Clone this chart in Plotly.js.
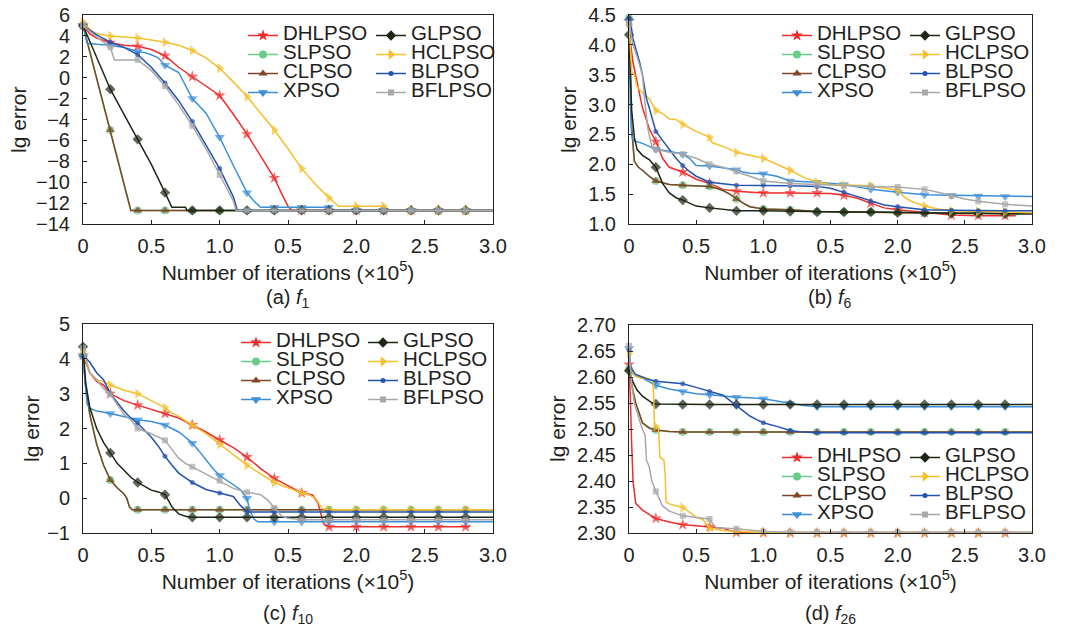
<!DOCTYPE html>
<html>
<head>
<meta charset="utf-8">
<script src="https://cdn.plot.ly/plotly-3.0.1.min.js"></script>
<style>
html, body { margin: 0; padding: 0; background: #ffffff; }
#chart { width: 1070px; height: 630px; }
</style>
</head>
<body>
<div id="chart"></div>
<script>
// ---------------- DATA ----------------
const seriesNames = ['DHLPSO', 'SLPSO', 'CLPSO', 'XPSO', 'GLPSO', 'HCLPSO', 'BLPSO', 'BFLPSO'];
const xTickVals = [0, 0.5, 1.0, 1.5, 2.0, 2.5, 3.0];
const xTickLabels = ['0', '0.5', '1.0', '0.5', '2.0', '2.5', '3.0'];
const panelCaptions = ['(a) <i>f</i><sub>1</sub>', '(b) <i>f</i><sub>6</sub>', '(c) <i>f</i><sub>10</sub>', '(d) <i>f</i><sub>26</sub>'];
const xTitle = 'Number of iterations (×10<sup>5</sup>)';
const yTitle = 'lg error';

// (a) f1
const f1_DHLPSO_x = [0, 0.05, 0.1, 0.2, 0.3, 0.4, 0.5, 0.6, 0.7, 0.8, 0.9, 1.0, 1.1, 1.2, 1.3, 1.4, 1.45, 1.5, 1.53, 1.6, 1.8, 2.0, 2.2, 2.4, 2.6, 2.8, 3.0];
const f1_DHLPSO_y = [5.0, 4.2, 3.8, 3.35, 3.1, 3.0, 2.7, 2.1, 1.0, 0.1, -0.8, -1.7, -3.5, -5.4, -7.5, -9.6, -11.0, -12.3, -12.7, -12.7, -12.7, -12.7, -12.7, -12.7, -12.7, -12.7, -12.7];
const f1_SLPSO_x = [0, 0.1, 0.2, 0.35, 0.4, 0.6, 0.8, 1.0, 1.2, 1.4, 1.6, 1.8, 2.0, 2.2, 2.4, 2.6, 2.8, 3.0];
const f1_SLPSO_y = [5.0, 0.0, -5.0, -12.7, -12.7, -12.7, -12.7, -12.7, -12.7, -12.7, -12.7, -12.7, -12.7, -12.7, -12.7, -12.7, -12.7, -12.7];
const f1_CLPSO_x = [0, 0.1, 0.2, 0.35, 0.4, 0.6, 0.8, 1.0, 1.2, 1.4, 1.6, 1.8, 2.0, 2.2, 2.4, 2.6, 2.8, 3.0];
const f1_CLPSO_y = [5.0, 0.0, -5.0, -12.7, -12.7, -12.7, -12.7, -12.7, -12.7, -12.7, -12.7, -12.7, -12.7, -12.7, -12.7, -12.7, -12.7, -12.7];
const f1_XPSO_x = [0, 0.03, 0.1, 0.2, 0.3, 0.4, 0.45, 0.5, 0.55, 0.6, 0.7, 0.8, 0.9, 1.0, 1.1, 1.2, 1.25, 1.3, 1.4, 1.6, 1.8, 1.81, 2.0, 2.2, 2.4, 2.6, 2.8, 3.0];
const f1_XPSO_y = [5.0, 3.3, 3.2, 3.1, 2.9, 2.5, 2.4, 2.2, 1.9, 1.2, 0.5, -2.0, -3.4, -5.7, -8.4, -11.0, -11.8, -12.4, -12.4, -12.4, -12.4, -12.7, -12.7, -12.7, -12.7, -12.7, -12.7, -12.7];
const f1_GLPSO_x = [0, 0.1, 0.2, 0.3, 0.4, 0.5, 0.6, 0.65, 0.75, 0.76, 0.8, 1.0, 1.2, 1.4, 1.6, 1.8, 2.0, 2.2, 2.4, 2.6, 2.8, 3.0];
const f1_GLPSO_y = [5.0, 2.0, -1.1, -3.5, -5.9, -8.3, -11.0, -12.4, -12.4, -12.7, -12.7, -12.7, -12.7, -12.7, -12.7, -12.7, -12.7, -12.7, -12.7, -12.7, -12.7, -12.7];
const f1_HCLPSO_x = [0, 0.05, 0.1, 0.2, 0.3, 0.4, 0.5, 0.6, 0.7, 0.8, 0.9, 1.0, 1.1, 1.2, 1.3, 1.4, 1.5, 1.6, 1.7, 1.8, 1.87, 2.0, 2.2, 2.21, 2.4, 2.6, 2.8, 3.0];
const f1_HCLPSO_y = [5.3, 4.6, 4.2, 4.0, 3.9, 3.8, 3.6, 3.4, 3.1, 2.6, 1.9, 0.9, -0.4, -1.8, -3.4, -5.0, -6.8, -8.7, -10.2, -11.5, -12.3, -12.3, -12.3, -12.7, -12.7, -12.7, -12.7, -12.7];
const f1_BLPSO_x = [0, 0.1, 0.2, 0.3, 0.4, 0.5, 0.6, 0.7, 0.8, 0.9, 1.0, 1.1, 1.13, 1.2, 1.4, 1.6, 1.8, 2.0, 2.2, 2.4, 2.6, 2.8, 3.0];
const f1_BLPSO_y = [5.0, 4.1, 3.4, 2.9, 2.2, 1.0, -0.5, -2.2, -4.2, -6.4, -8.7, -11.4, -12.7, -12.7, -12.7, -12.7, -12.7, -12.7, -12.7, -12.7, -12.7, -12.7, -12.7];
const f1_BFLPSO_x = [0, 0.1, 0.2, 0.23, 0.3, 0.4, 0.5, 0.6, 0.7, 0.8, 0.9, 1.0, 1.1, 1.12, 1.2, 1.4, 1.6, 1.8, 2.0, 2.2, 2.4, 2.6, 2.8, 3.0];
const f1_BFLPSO_y = [5.0, 3.9, 2.9, 1.7, 1.7, 1.7, 0.7, -0.8, -2.6, -4.6, -6.8, -9.3, -11.8, -12.7, -12.7, -12.7, -12.7, -12.7, -12.7, -12.7, -12.7, -12.7, -12.7, -12.7];

// (b) f6
const f6_DHLPSO_x = [0, 0.01, 0.03, 0.05, 0.08, 0.1, 0.15, 0.2, 0.25, 0.3, 0.4, 0.5, 0.6, 0.7, 0.8, 1.0, 1.2, 1.4, 1.5, 1.6, 1.7, 1.8, 1.9, 2.0, 2.2, 2.4, 2.6, 2.8, 2.88];
const f6_DHLPSO_y = [4.4, 4.05, 3.7, 3.5, 3.15, 2.95, 2.6, 2.38, 2.1, 1.95, 1.87, 1.75, 1.68, 1.58, 1.55, 1.52, 1.52, 1.52, 1.51, 1.48, 1.43, 1.35, 1.27, 1.24, 1.19, 1.15, 1.14, 1.14, 1.14];
const f6_SLPSO_x = [0, 0.01, 0.02, 0.04, 0.07, 0.1, 0.15, 0.2, 0.3, 0.4, 0.5, 0.6, 0.65, 0.7, 0.75, 0.8, 0.85, 0.9, 1.0, 1.2, 1.4, 1.6, 1.8, 2.0, 2.2, 2.4, 2.6, 2.8, 3.0];
const f6_SLPSO_y = [4.45, 3.3, 2.6, 2.05, 1.95, 1.9, 1.8, 1.72, 1.66, 1.65, 1.64, 1.63, 1.6, 1.56, 1.5, 1.42, 1.35, 1.29, 1.25, 1.24, 1.21, 1.2, 1.2, 1.19, 1.19, 1.18, 1.18, 1.17, 1.17];
const f6_CLPSO_x = [0, 0.01, 0.02, 0.04, 0.07, 0.1, 0.15, 0.2, 0.3, 0.4, 0.5, 0.6, 0.65, 0.7, 0.75, 0.8, 0.85, 0.9, 1.0, 1.2, 1.4, 1.6, 1.8, 2.0, 2.2, 2.4, 2.6, 2.8, 3.0];
const f6_CLPSO_y = [4.45, 3.3, 2.6, 2.05, 1.95, 1.9, 1.8, 1.72, 1.66, 1.65, 1.64, 1.63, 1.6, 1.56, 1.5, 1.42, 1.35, 1.29, 1.25, 1.24, 1.21, 1.2, 1.2, 1.19, 1.19, 1.18, 1.18, 1.17, 1.17];
const f6_XPSO_x = [0, 0.01, 0.02, 0.03, 0.1, 0.2, 0.3, 0.4, 0.45, 0.5, 0.6, 0.8, 0.85, 0.9, 1.0, 1.1, 1.2, 1.4, 1.6, 1.8, 2.0, 2.2, 2.4, 2.6, 2.8, 3.0];
const f6_XPSO_y = [4.4, 3.0, 2.5, 2.4, 2.35, 2.25, 2.22, 2.17, 2.1, 1.98, 1.97, 1.91, 1.87, 1.85, 1.84, 1.8, 1.72, 1.7, 1.66, 1.58, 1.53, 1.49, 1.48, 1.47, 1.46, 1.46];
const f6_GLPSO_x = [0, 0.01, 0.02, 0.04, 0.06, 0.1, 0.15, 0.2, 0.22, 0.25, 0.3, 0.35, 0.4, 0.5, 0.6, 0.7, 0.8, 1.0, 1.2, 1.4, 1.6, 1.8, 2.0, 2.2, 2.4, 2.6, 2.8, 3.0];
const f6_GLPSO_y = [4.17, 3.4, 2.9, 2.45, 2.25, 2.15, 2.08, 1.95, 1.85, 1.68, 1.52, 1.44, 1.4, 1.3, 1.27, 1.24, 1.22, 1.22, 1.21, 1.2, 1.2, 1.2, 1.19, 1.19, 1.18, 1.18, 1.17, 1.17];
const f6_HCLPSO_x = [0, 0.02, 0.04, 0.06, 0.1, 0.15, 0.2, 0.25, 0.3, 0.35, 0.4, 0.5, 0.6, 0.62, 0.7, 0.8, 0.9, 1.0, 1.1, 1.2, 1.3, 1.4, 1.5, 1.6, 1.8, 1.9, 2.0, 2.05, 2.1, 2.2, 2.3, 2.4, 2.6, 2.8, 3.0];
const f6_HCLPSO_y = [4.35, 3.55, 3.5, 3.3, 3.2, 3.1, 2.9, 2.85, 2.76, 2.75, 2.67, 2.55, 2.45, 2.36, 2.3, 2.2, 2.15, 2.1, 2.0, 1.9, 1.78, 1.7, 1.66, 1.65, 1.64, 1.6, 1.57, 1.45, 1.38, 1.3, 1.25, 1.22, 1.21, 1.2, 1.19];
const f6_BLPSO_x = [0, 0.01, 0.03, 0.05, 0.08, 0.1, 0.13, 0.15, 0.2, 0.25, 0.3, 0.35, 0.4, 0.45, 0.5, 0.6, 0.8, 1.0, 1.2, 1.4, 1.5, 1.6, 1.7, 1.8, 1.9, 2.0, 2.2, 2.4, 2.6, 2.8, 3.0];
const f6_BLPSO_y = [4.45, 4.4, 4.1, 3.95, 3.7, 3.5, 3.1, 2.95, 2.55, 2.4, 2.25, 2.1, 1.98, 1.88, 1.8, 1.7, 1.65, 1.65, 1.64, 1.63, 1.6, 1.53, 1.46, 1.38, 1.32, 1.29, 1.24, 1.23, 1.22, 1.22, 1.22];
const f6_BFLPSO_x = [0, 0.03, 0.06, 0.1, 0.12, 0.14, 0.17, 0.2, 0.3, 0.4, 0.5, 0.6, 0.7, 0.8, 0.9, 1.0, 1.2, 1.4, 1.6, 1.8, 2.0, 2.2, 2.3, 2.4, 2.5, 2.6, 2.7, 2.8, 3.0];
const f6_BFLPSO_y = [4.35, 4.0, 3.8, 3.5, 3.0, 2.6, 2.3, 2.25, 2.2, 2.17, 2.1, 2.0, 1.95, 1.88, 1.8, 1.72, 1.68, 1.66, 1.64, 1.63, 1.62, 1.58, 1.53, 1.47, 1.42, 1.38, 1.35, 1.33, 1.3];

// (c) f10
const f10_DHLPSO_x = [0, 0.05, 0.1, 0.15, 0.2, 0.3, 0.4, 0.5, 0.6, 0.7, 0.8, 0.9, 1.0, 1.1, 1.2, 1.3, 1.4, 1.5, 1.6, 1.68, 1.72, 1.76, 1.8, 2.0, 2.2, 2.4, 2.6, 2.8, 2.83];
const f10_DHLPSO_y = [4.1, 3.6, 3.35, 3.25, 3.0, 2.8, 2.67, 2.55, 2.43, 2.3, 2.1, 1.9, 1.67, 1.45, 1.18, 0.85, 0.57, 0.35, 0.15, 0.09, -0.15, -0.73, -0.82, -0.82, -0.82, -0.82, -0.82, -0.82, -0.82];
const f10_SLPSO_x = [0, 0.02, 0.05, 0.1, 0.15, 0.2, 0.25, 0.3, 0.32, 0.34, 0.36, 0.4, 0.6, 0.8, 1.0, 1.2, 1.4, 1.6, 1.8, 2.0, 2.2, 2.4, 2.6, 2.8, 3.0];
const f10_SLPSO_y = [4.1, 3.2, 2.4, 1.55, 0.95, 0.52, 0.3, 0.12, 0.0, -0.25, -0.33, -0.33, -0.33, -0.33, -0.33, -0.33, -0.33, -0.33, -0.33, -0.33, -0.33, -0.33, -0.33, -0.33, -0.33];
const f10_CLPSO_x = [0, 0.02, 0.05, 0.1, 0.15, 0.2, 0.25, 0.3, 0.32, 0.34, 0.36, 0.4, 0.6, 0.8, 1.0, 1.2, 1.4, 1.6, 1.8, 2.0, 2.2, 2.4, 2.6, 2.8, 3.0];
const f10_CLPSO_y = [4.1, 3.2, 2.4, 1.55, 0.95, 0.52, 0.3, 0.12, 0.0, -0.25, -0.33, -0.33, -0.33, -0.33, -0.33, -0.33, -0.33, -0.33, -0.33, -0.33, -0.33, -0.33, -0.33, -0.33, -0.33];
const f10_XPSO_x = [0, 0.02, 0.03, 0.05, 0.1, 0.2, 0.3, 0.4, 0.5, 0.6, 0.65, 0.7, 0.75, 0.8, 0.85, 0.9, 0.95, 1.0, 1.1, 1.15, 1.2, 1.22, 1.25, 1.28, 1.4, 1.6, 1.8, 2.0, 2.2, 2.4, 2.6, 2.8, 3.0];
const f10_XPSO_y = [4.05, 3.2, 2.7, 2.58, 2.5, 2.43, 2.35, 2.25, 2.2, 2.1, 2.0, 1.9, 1.75, 1.58, 1.35, 1.1, 0.85, 0.65, 0.4, 0.25, 0.0, -0.35, -0.6, -0.68, -0.68, -0.68, -0.68, -0.68, -0.68, -0.68, -0.68, -0.68, -0.68];
const f10_GLPSO_x = [0, 0.02, 0.05, 0.1, 0.15, 0.2, 0.25, 0.3, 0.35, 0.4, 0.45, 0.5, 0.55, 0.6, 0.63, 0.65, 0.7, 0.75, 0.8, 1.0, 1.2, 1.4, 1.6, 1.8, 2.0, 2.2, 2.4, 2.6, 2.8, 3.0];
const f10_GLPSO_y = [4.35, 3.3, 2.6, 2.0, 1.6, 1.3, 1.0, 0.8, 0.6, 0.45, 0.33, 0.23, 0.18, 0.1, -0.1, -0.25, -0.45, -0.52, -0.55, -0.55, -0.55, -0.55, -0.55, -0.55, -0.55, -0.55, -0.55, -0.55, -0.55, -0.55];
const f10_HCLPSO_x = [0, 0.05, 0.1, 0.15, 0.2, 0.3, 0.4, 0.45, 0.5, 0.6, 0.65, 0.7, 0.8, 0.9, 1.0, 1.1, 1.2, 1.3, 1.4, 1.5, 1.6, 1.65, 1.7, 1.75, 1.8, 2.0, 2.2, 2.4, 2.6, 2.8, 3.0];
const f10_HCLPSO_y = [4.2, 3.6, 3.4, 3.35, 3.25, 3.1, 3.0, 2.9, 2.8, 2.6, 2.45, 2.35, 2.1, 1.85, 1.55, 1.25, 0.95, 0.7, 0.45, 0.3, 0.15, 0.1, 0.0, -0.3, -0.33, -0.33, -0.33, -0.33, -0.33, -0.33, -0.33];
const f10_BLPSO_x = [0, 0.05, 0.1, 0.15, 0.2, 0.25, 0.3, 0.35, 0.4, 0.45, 0.5, 0.55, 0.6, 0.65, 0.7, 0.75, 0.8, 0.9, 1.0, 1.1, 1.15, 1.2, 1.4, 1.6, 1.8, 2.0, 2.2, 2.4, 2.6, 2.8, 3.0];
const f10_BLPSO_y = [4.1, 3.9, 3.6, 3.4, 3.0, 2.75, 2.5, 2.3, 2.15, 1.95, 1.75, 1.5, 1.2, 0.95, 0.72, 0.58, 0.45, 0.25, 0.15, 0.05, -0.2, -0.4, -0.4, -0.4, -0.4, -0.4, -0.4, -0.4, -0.4, -0.4, -0.4];
const f10_BFLPSO_x = [0, 0.05, 0.1, 0.15, 0.2, 0.25, 0.3, 0.35, 0.4, 0.5, 0.55, 0.6, 0.65, 0.7, 0.75, 0.8, 0.9, 1.0, 1.1, 1.2, 1.3, 1.35, 1.4, 1.45, 1.5, 1.6, 1.8, 2.0, 2.2, 2.4, 2.6, 2.8, 3.0];
const f10_BFLPSO_y = [4.3, 3.6, 3.4, 3.15, 2.98, 2.7, 2.4, 2.25, 2.0, 1.85, 1.75, 1.66, 1.4, 1.15, 1.0, 0.9, 0.68, 0.5, 0.28, 0.17, 0.1, -0.05, -0.28, -0.5, -0.58, -0.62, -0.62, -0.62, -0.62, -0.62, -0.62, -0.62, -0.62];

// (d) f26
const f26_DHLPSO_x = [0, 0.005, 0.01, 0.02, 0.03, 0.05, 0.1, 0.15, 0.2, 0.3, 0.4, 0.5, 0.6, 0.7, 0.75, 0.8, 1.0, 1.2, 1.4, 1.6, 1.8, 2.0, 2.2, 2.4, 2.6, 2.8, 3.0];
const f26_DHLPSO_y = [2.624, 2.6, 2.56, 2.47, 2.4, 2.357, 2.344, 2.336, 2.328, 2.321, 2.316, 2.314, 2.312, 2.309, 2.305, 2.301, 2.3005, 2.3005, 2.3, 2.3, 2.3, 2.3, 2.3, 2.3, 2.3, 2.3, 2.3];
const f26_SLPSO_x = [0, 0.01, 0.03, 0.05, 0.08, 0.1, 0.15, 0.2, 0.3, 0.4, 0.6, 0.8, 1.0, 1.2, 1.4, 1.6, 1.8, 2.0, 2.2, 2.4, 2.6, 2.8, 3.0];
const f26_SLPSO_y = [2.615, 2.6, 2.573, 2.55, 2.525, 2.512, 2.502, 2.498, 2.495, 2.494, 2.494, 2.494, 2.494, 2.494, 2.494, 2.494, 2.494, 2.494, 2.494, 2.494, 2.494, 2.494, 2.494];
const f26_CLPSO_x = [0, 0.01, 0.03, 0.05, 0.08, 0.1, 0.15, 0.2, 0.3, 0.4, 0.6, 0.8, 1.0, 1.2, 1.4, 1.6, 1.8, 2.0, 2.2, 2.4, 2.6, 2.8, 3.0];
const f26_CLPSO_y = [2.615, 2.6, 2.573, 2.55, 2.525, 2.512, 2.502, 2.498, 2.495, 2.494, 2.494, 2.494, 2.494, 2.494, 2.494, 2.494, 2.494, 2.494, 2.494, 2.494, 2.494, 2.494, 2.494];
const f26_XPSO_x = [0, 0.01, 0.02, 0.05, 0.1, 0.2, 0.3, 0.4, 0.5, 0.6, 0.7, 0.8, 0.9, 1.0, 1.1, 1.2, 1.3, 1.4, 1.6, 1.8, 2.0, 2.2, 2.4, 2.6, 2.8, 3.0];
const f26_XPSO_y = [2.655, 2.62, 2.608, 2.602, 2.598, 2.584, 2.577, 2.572, 2.568, 2.566, 2.563, 2.561, 2.56, 2.558, 2.554, 2.549, 2.545, 2.543, 2.543, 2.543, 2.543, 2.543, 2.543, 2.543, 2.543, 2.543];
const f26_GLPSO_x = [0, 0.01, 0.03, 0.06, 0.1, 0.15, 0.18, 0.2, 0.4, 0.6, 0.8, 1.0, 1.2, 1.4, 1.6, 1.8, 2.0, 2.2, 2.4, 2.6, 2.8, 3.0];
const f26_GLPSO_y = [2.612, 2.605, 2.59, 2.575, 2.563, 2.554, 2.549, 2.548, 2.547, 2.547, 2.547, 2.547, 2.547, 2.547, 2.547, 2.547, 2.547, 2.547, 2.547, 2.547, 2.547, 2.547];
const f26_HCLPSO_x = [0, 0.01, 0.03, 0.06, 0.1, 0.15, 0.18, 0.19, 0.2, 0.22, 0.23, 0.26, 0.27, 0.275, 0.3, 0.4, 0.45, 0.5, 0.55, 0.6, 0.7, 0.8, 1.0, 1.2, 1.4, 1.6, 1.8, 2.0, 2.2, 2.4, 2.6, 2.8, 3.0];
const f26_HCLPSO_y = [2.645, 2.622, 2.606, 2.6, 2.597, 2.597, 2.59, 2.507, 2.505, 2.5, 2.446, 2.44, 2.41, 2.36, 2.356, 2.349, 2.34, 2.33, 2.326, 2.309, 2.305, 2.303, 2.301, 2.3, 2.3, 2.3, 2.3, 2.3, 2.3, 2.3, 2.3, 2.3, 2.3];
const f26_BLPSO_x = [0, 0.01, 0.02, 0.05, 0.1, 0.15, 0.2, 0.3, 0.4, 0.5, 0.6, 0.7, 0.75, 0.8, 0.85, 0.9, 0.95, 1.0, 1.1, 1.2, 1.3, 1.4, 1.6, 1.8, 2.0, 2.2, 2.4, 2.6, 2.8, 3.0];
const f26_BLPSO_y = [2.652, 2.625, 2.615, 2.605, 2.6, 2.595, 2.592, 2.589, 2.587, 2.58, 2.572, 2.565, 2.555, 2.545, 2.535, 2.525, 2.518, 2.512, 2.505, 2.497, 2.494, 2.493, 2.493, 2.493, 2.493, 2.493, 2.493, 2.493, 2.493, 2.493];
const f26_BFLPSO_x = [0, 0.01, 0.02, 0.04, 0.06, 0.08, 0.1, 0.12, 0.13, 0.15, 0.17, 0.19, 0.2, 0.25, 0.3, 0.4, 0.5, 0.6, 0.63, 0.65, 0.8, 1.0, 1.2, 1.4, 1.6, 1.8, 2.0, 2.2, 2.4, 2.6, 2.8, 3.0];
const f26_BFLPSO_y = [2.66, 2.62, 2.585, 2.55, 2.53, 2.515, 2.5, 2.488, 2.44, 2.428, 2.4, 2.385, 2.38, 2.352, 2.342, 2.333, 2.33, 2.327, 2.315, 2.31, 2.308, 2.303, 2.302, 2.302, 2.302, 2.302, 2.302, 2.302, 2.302, 2.302, 2.302, 2.302];

// ---------------- STYLE ----------------
const seriesColors = ['#ee2d2d', '#6acb8b', '#7e4725', '#3b8fd9', '#1d2616', '#f4c12d', '#2453ae', '#a8a8a8'];
const seriesSymbols = ['star', 'circle', 'triangle-up', 'triangle-down', 'diamond', 'triangle-right', 'circle', 'square'];
const seriesMarkerSizes = [9, 8, 8, 9, 8, 9, 5, 6];
const FONT = 'Liberation Sans, Arial, Helvetica, sans-serif';
const TXT = '#231f20';

const panelSeries = [
  { DHLPSO: [f1_DHLPSO_x, f1_DHLPSO_y], SLPSO: [f1_SLPSO_x, f1_SLPSO_y], CLPSO: [f1_CLPSO_x, f1_CLPSO_y], XPSO: [f1_XPSO_x, f1_XPSO_y],
    GLPSO: [f1_GLPSO_x, f1_GLPSO_y], HCLPSO: [f1_HCLPSO_x, f1_HCLPSO_y], BLPSO: [f1_BLPSO_x, f1_BLPSO_y], BFLPSO: [f1_BFLPSO_x, f1_BFLPSO_y] },
  { DHLPSO: [f6_DHLPSO_x, f6_DHLPSO_y], SLPSO: [f6_SLPSO_x, f6_SLPSO_y], CLPSO: [f6_CLPSO_x, f6_CLPSO_y], XPSO: [f6_XPSO_x, f6_XPSO_y],
    GLPSO: [f6_GLPSO_x, f6_GLPSO_y], HCLPSO: [f6_HCLPSO_x, f6_HCLPSO_y], BLPSO: [f6_BLPSO_x, f6_BLPSO_y], BFLPSO: [f6_BFLPSO_x, f6_BFLPSO_y] },
  { DHLPSO: [f10_DHLPSO_x, f10_DHLPSO_y], SLPSO: [f10_SLPSO_x, f10_SLPSO_y], CLPSO: [f10_CLPSO_x, f10_CLPSO_y], XPSO: [f10_XPSO_x, f10_XPSO_y],
    GLPSO: [f10_GLPSO_x, f10_GLPSO_y], HCLPSO: [f10_HCLPSO_x, f10_HCLPSO_y], BLPSO: [f10_BLPSO_x, f10_BLPSO_y], BFLPSO: [f10_BFLPSO_x, f10_BFLPSO_y] },
  { DHLPSO: [f26_DHLPSO_x, f26_DHLPSO_y], SLPSO: [f26_SLPSO_x, f26_SLPSO_y], CLPSO: [f26_CLPSO_x, f26_CLPSO_y], XPSO: [f26_XPSO_x, f26_XPSO_y],
    GLPSO: [f26_GLPSO_x, f26_GLPSO_y], HCLPSO: [f26_HCLPSO_x, f26_HCLPSO_y], BLPSO: [f26_BLPSO_x, f26_BLPSO_y], BFLPSO: [f26_BFLPSO_x, f26_BFLPSO_y] }
];

const W = 1070, H = 630;
// plot boxes in px: [left, right, top, bottom]
const panelBoxes = [[83, 493, 15, 224], [629, 1032, 15, 224], [83, 493, 324, 533], [629, 1032, 325, 533]];
const yRanges = [[-14, 6], [1, 4.5], [-1, 5], [2.3, 2.7]];
const yDticks = [2, 0.5, 1, 0.05];
const yFormats = ['', '.1f', '', '.2f'];
// legend columns: [x of col1, x of col2, top]
const legendPos = [[243, 371, 21], [777, 905, 21], [236, 363, 328], [777, 905, 443]];
const captionPos = [[288, 298], [830, 298], [288, 614], [830, 614]];
const yTitlePos = [[18, 120], [568, 120], [31, 429], [557, 429]];

const traces = [];
const layout = {
  width: W, height: H,
  margin: { l: 0, r: 0, t: 0, b: 0 },
  paper_bgcolor: '#ffffff', plot_bgcolor: '#ffffff',
  font: { family: FONT, color: TXT, size: 20 },
  showlegend: true,
  annotations: []
};

function isMarkerX(x) {
  const r = x / 0.2;
  return Math.abs(r - Math.round(r)) < 1e-6 && x <= 2.8 + 1e-9;
}

panelSeries.forEach((ser, p) => {
  const xa = p === 0 ? 'x' : 'x' + (p + 1);
  const ya = p === 0 ? 'y' : 'y' + (p + 1);
  const box = panelBoxes[p];
  const legA = p === 0 ? 'legend' : 'legend' + (2 * p + 1);
  const legB = 'legend' + (2 * p + 2);

  seriesNames.forEach((name, i) => {
    const xs = ser[name][0], ys = ser[name][1];
    traces.push({
      type: 'scatter', mode: 'lines+markers', x: xs, y: ys,
      xaxis: xa, yaxis: ya, showlegend: false, cliponaxis: false,
      line: { color: seriesColors[i], width: 1.5 },
      marker: { symbol: seriesSymbols[i], color: seriesColors[i],
                size: xs.map(v => isMarkerX(v) ? seriesMarkerSizes[i] : 0), line: { width: 0 } },
      hoverinfo: 'skip'
    });
  });
  // legend entries (two columns)
  seriesNames.forEach((name, i) => {
    traces.push({
      type: 'scatter', mode: 'lines+markers', x: [null], y: [null],
      xaxis: xa, yaxis: ya, showlegend: true, legend: i < 4 ? legA : legB,
      name: '<span style="font-size:20.5px">' + name + '</span>',
      line: { color: seriesColors[i], width: 1.5 },
      marker: { symbol: seriesSymbols[i], color: seriesColors[i], size: seriesMarkerSizes[i], line: { width: 0 } }
    });
  });

  const xKey = p === 0 ? 'xaxis' : 'xaxis' + (p + 1);
  const yKey = p === 0 ? 'yaxis' : 'yaxis' + (p + 1);
  layout[xKey] = {
    domain: [box[0] / W, box[1] / W], anchor: ya, range: [0, 3],
    tickmode: 'array', tickvals: xTickVals, ticktext: xTickLabels,
    ticks: 'inside', ticklen: 4, tickcolor: '#222', tickwidth: 1,
    showline: true, linecolor: '#222', linewidth: 1, mirror: true,
    showgrid: false, zeroline: false, automargin: false,
    ticklabelstandoff: 4,
    tickfont: { size: 20, family: FONT, color: TXT },
    title: { text: xTitle, font: { size: 21, family: FONT, color: TXT }, standoff: 9 }
  };
  layout[yKey] = {
    domain: [1 - box[3] / H, 1 - box[2] / H], anchor: xa, range: yRanges[p],
    tick0: yRanges[p][0], dtick: yDticks[p], tickformat: yFormats[p],
    ticks: 'inside', ticklen: 4, tickcolor: '#222', tickwidth: 1,
    showline: true, linecolor: '#222', linewidth: 1, mirror: true,
    showgrid: false, zeroline: false, automargin: false,
    ticklabelstandoff: 8,
    tickfont: { size: 20, family: FONT, color: TXT }
  };
  const lp = legendPos[p];
  [legA, legB].forEach((lg, k) => {
    layout[lg] = {
      x: lp[k] / W, y: 1 - lp[2] / H, xanchor: 'left', yanchor: 'top',
      orientation: 'v', bgcolor: 'rgba(0,0,0,0)', borderwidth: 0,
      itemwidth: 30, tracegroupgap: 0,
      font: { size: 12, family: FONT, color: TXT }
    };
  });
  layout.annotations.push({
    xref: 'paper', yref: 'paper', x: yTitlePos[p][0] / W, y: 1 - yTitlePos[p][1] / H,
    xanchor: 'center', yanchor: 'middle', showarrow: false, textangle: -90,
    text: yTitle, font: { size: 21, family: FONT, color: TXT }
  });
  layout.annotations.push({
    xref: 'paper', yref: 'paper', x: captionPos[p][0] / W, y: 1 - captionPos[p][1] / H,
    xanchor: 'center', yanchor: 'middle', showarrow: false,
    text: panelCaptions[p], font: { size: 20, family: FONT, color: TXT }
  });
});

Plotly.newPlot('chart', traces, layout, { staticPlot: true, displayModeBar: false });
</script>
</body>
</html>
